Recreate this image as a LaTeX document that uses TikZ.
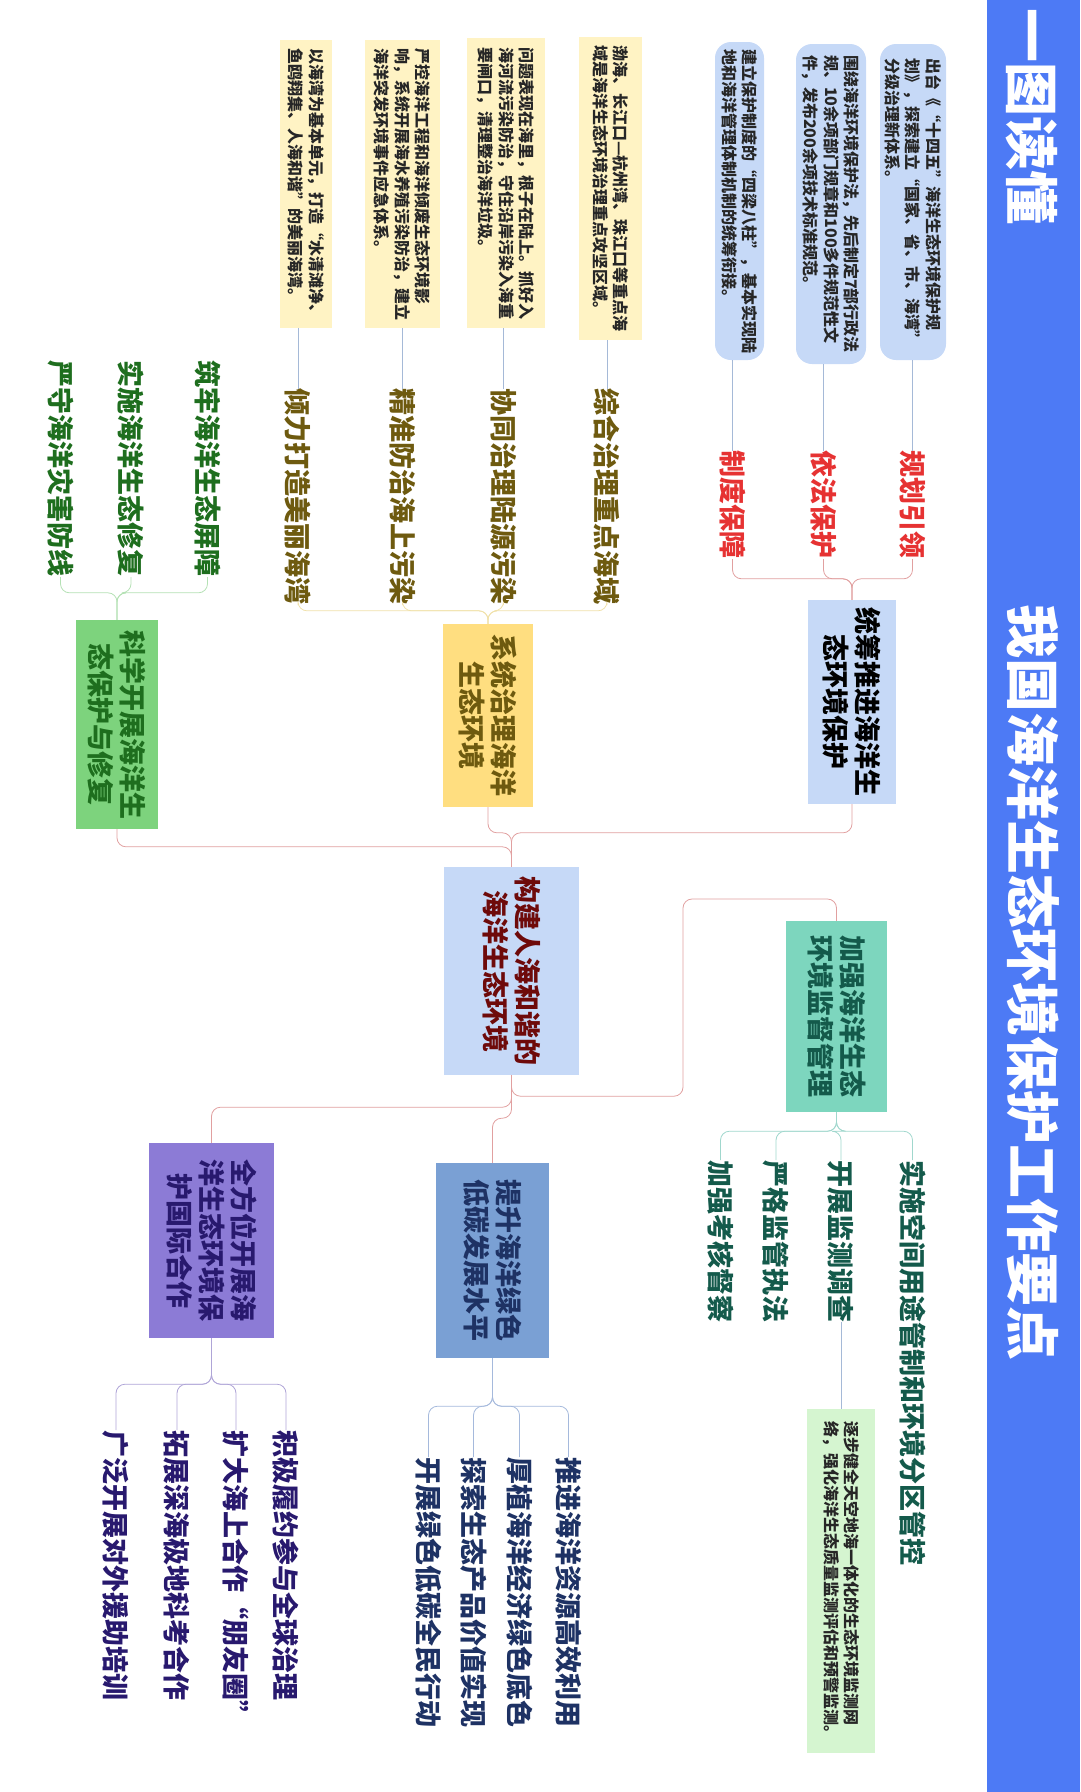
\documentclass[tikz,border=0pt]{standalone}
\usepackage{fontspec}
\setmainfont{Noto Sans CJK SC}
\usetikzlibrary{calc}

\definecolor{band}{RGB}{77,122,245}
\definecolor{paleblue}{RGB}{198,217,247}
\definecolor{gold}{RGB}{255,222,128}
\definecolor{cream}{RGB}{255,243,196}
\definecolor{grass}{RGB}{125,211,125}
\definecolor{mint}{RGB}{125,214,190}
\definecolor{palemint}{RGB}{213,245,208}
\definecolor{steel}{RGB}{122,160,212}
\definecolor{lilac}{RGB}{140,123,214}
\definecolor{txred}{RGB}{230,50,50}
\definecolor{txroot}{RGB}{110,10,10}
\definecolor{txolive}{RGB}{110,90,15}
\definecolor{txgreen}{RGB}{30,110,30}
\definecolor{txteal}{RGB}{20,90,75}
\definecolor{txnavy}{RGB}{30,50,100}
\definecolor{txindigo}{RGB}{40,25,110}
\definecolor{lnmain}{RGB}{225,160,160}
\definecolor{lnolive}{RGB}{240,225,170}
\definecolor{lngreen}{RGB}{180,225,180}
\definecolor{lnteal}{RGB}{160,215,205}
\definecolor{lnnavy}{RGB}{165,185,220}
\definecolor{lnindigo}{RGB}{175,165,215}
\definecolor{lnmemo}{RGB}{165,185,215}

\begin{document}
\begin{tikzpicture}[x=1pt,y=-1pt,
  every node/.style={rotate=-90,inner sep=0pt},
  link/.style={draw=#1,line width=0.8pt,rounded corners=9pt},
  topic/.style={align=center,font=\bfseries\fontsize{27}{32}\selectfont},
  leaf/.style={text=#1,font=\bfseries\fontsize{27}{27}\selectfont},
  memo/.style={fill=#1,align=left,text=black!85,font=\bfseries\fontsize{16}{20.5}\selectfont}]
\useasboundingbox (0,0) rectangle (1080,1792);

% title band
\fill[band] (987,0) rectangle (1080,1792);
\node[text=white,font=\bfseries\fontsize{54}{54}\selectfont] (ytdd) at (1032,116.5) {一图读懂};
\node[text=white,font=\bfseries\fontsize{54}{54}\selectfont] (ttl) at (1033,982.5) {我国海洋生态环境保护工作要点};

% main topics
\node[topic,fill=paleblue,text=txroot,minimum width=208pt,minimum height=135pt] (root) at (511.5,971) {构建人海和谐的\\海洋生态环境};
\node[topic,fill=paleblue,text=black,minimum width=204pt,minimum height=88pt] (tc) at (852,702) {统筹推进海洋生\\态环境保护};
\node[topic,fill=gold,text=txolive,minimum width=183pt,minimum height=90pt] (xt) at (488,715.5) {系统治理海洋\\生态环境};
\node[topic,fill=grass,text=txgreen,minimum width=209pt,minimum height=82pt] (kx) at (117,724.5) {科学开展海洋生\\态保护与修复};
\node[topic,fill=mint,text=txteal,minimum width=191pt,minimum height=101pt] (jq) at (836.5,1016.5) {加强海洋生态\\环境监督管理};
\node[topic,fill=steel,text=txnavy,minimum width=195pt,minimum height=113pt] (ts) at (492.5,1260.5) {提升海洋绿色\\低碳发展水平};
\node[topic,fill=lilac,text=txindigo,minimum width=195pt,minimum height=125pt] (qf) at (211.5,1240.5) {全方位开展海\\洋生态环境保\\护国际合作};

% sub topics
\node[leaf=txred,anchor=east] (gh) at (912.5,559) {规划引领};
\node[leaf=txred,anchor=east] (yf) at (823.5,559) {依法保护};
\node[leaf=txred,anchor=east] (zd) at (732.5,559) {制度保障};
\node[leaf=txolive,anchor=east] (zh) at (607,605) {综合治理重点海域};
\node[leaf=txolive,anchor=east] (xtl) at (503.5,605) {协同治理陆源污染};
\node[leaf=txolive,anchor=east] (jz) at (402.5,605) {精准防治海上污染};
\node[leaf=txolive,anchor=east] (ql) at (298,605) {倾力打造美丽海湾};
\node[leaf=txgreen,anchor=east] (zl) at (207.5,577) {筑牢海洋生态屏障};
\node[leaf=txgreen,anchor=east] (ss) at (131,577) {实施海洋生态修复};
\node[leaf=txgreen,anchor=east] (ys) at (60.5,577) {严守海洋灾害防线};
\node[leaf=txteal,anchor=west] (kj) at (912.5,1160) {实施空间用途管制和环境分区管控};
\node[leaf=txteal,anchor=west] (kz) at (841,1160) {开展监测调查};
\node[leaf=txteal,anchor=west] (yg) at (776,1160) {严格监管执法};
\node[leaf=txteal,anchor=west] (jk) at (720.5,1160) {加强考核督察};
\node[leaf=txnavy,anchor=west] (tj) at (568.5,1457) {推进海洋资源高效利用};
\node[leaf=txnavy,anchor=west] (hz) at (519.5,1457) {厚植海洋经济绿色底色};
\node[leaf=txnavy,anchor=west] (ta) at (473.5,1457) {探索生态产品价值实现};
\node[leaf=txnavy,anchor=west] (kl) at (428.5,1457) {开展绿色低碳全民行动};
\node[leaf=txindigo,anchor=west] (jj) at (286,1430) {积极履约参与全球治理};
\node[leaf=txindigo,anchor=west] (kd) at (236,1430) {扩大海上合作“朋友圈”};
\node[leaf=txindigo,anchor=west] (tz) at (177,1430) {拓展深海极地科考合作};
\node[leaf=txindigo,anchor=west] (gf) at (116,1430) {广泛开展对外援助培训};

% notes
\node[memo=paleblue,rounded corners=16pt,minimum width=316pt,minimum height=66pt] (n1) at (913,202) {出台《“十四五”海洋生态环境保护规\\划》，探索建立“国家、省、市、海湾”\\分级治理新体系。};
\node[memo=paleblue,rounded corners=16pt,minimum width=320pt,minimum height=70pt] (n2) at (831,204) {围绕海洋环境保护法，先后制定7部行政法\\规、10余项部门规章和100多件规范性文\\件，发布200余项技术标准规范。};
\node[memo=paleblue,rounded corners=16pt,minimum width=318pt,minimum height=49pt] (n3) at (739.5,201) {建立保护制度的“四梁八柱”，基本实现陆\\地和海洋管理体制机制的统筹衔接。};
\node[memo=cream,minimum width=303pt,minimum height=63pt] (n4) at (610.5,188.5) {渤海、长江口—杭州湾、珠江口等重点海\\域是海洋生态环境治理重点攻坚区域。};
\node[memo=cream,minimum width=290pt,minimum height=78pt] (n5) at (506,183) {问题表现在海里，根子在陆上。抓好入\\海河流污染防治，守住沿岸污染入海重\\要闸口，清理整治海洋垃圾。};
\node[memo=cream,minimum width=288pt,minimum height=75pt] (n6) at (402.5,184) {严控海洋工程和海洋倾废生态环境影\\响，系统开展海水养殖污染防治，建立\\海洋突发环境事件应急体系。};
\node[memo=cream,minimum width=288pt,minimum height=52pt] (n7) at (306,184) {以海湾为基本单元，打造“水清滩净、\\鱼鸥翔集、人海和谐”的美丽海湾。};
\node[memo=palemint,minimum width=344pt,minimum height=68pt] (n8) at (841,1581) {逐步健全天空地海一体化的生态环境监测网\\络，强化海洋生态质量监测评估和预警监测。};

% note lines
\foreach \a/\b in {gh/n1,yf/n2,zd/n3,zh/n4,xtl/n5,jz/n6,ql/n7}
  \draw[lnmemo,line width=0.8pt] (\a.west) -- (\a.west |- \b.east);
\draw[lnmemo,line width=0.8pt] (kz.east) -- (kz.east |- n8.west);

% root to main topics
\coordinate (rtA) at ($(root.west)+(0,-34)$);
\coordinate (rtB) at ($(root.west)+(0,-20)$);
\coordinate (rbA) at ($(root.east)+(0,21)$);
\coordinate (rbP) at (683,899);
\draw[link=lnmain] (tc.east) |- (rtA) -- (root.west);
\draw[link=lnmain] (xt.east) |- (rtA) -- (root.west);
\draw[link=lnmain] (kx.east) |- (rtB) -- (root.west);
\draw[link=lnmain] (root.east) -- (rbA) -| (rbP) -| (jq.west);
\draw[link=lnmain] (root.east) -- ($(root.east)+(0,43)$) -| (ts.west);
\draw[link=lnmain] (root.east) -- ($(root.east)+(0,32)$) -| (qf.west);

% main topics to sub topics
\coordinate (tcj) at ($(tc.west)+(0,-21)$);
\coordinate (xtj) at ($(xt.west)+(0,-13)$);
\coordinate (kxj) at ($(kx.west)+(0,-27)$);
\coordinate (jqj) at ($(jq.east)+(0,19)$);
\coordinate (tsj) at ($(ts.east)+(0,48)$);
\coordinate (qfj) at ($(qf.east)+(0,46)$);
\foreach \c in {gh,yf,zd} \draw[link=lnmain] (tc.west) -- (tcj) -| (\c.east);
\foreach \c in {zh,xtl,jz,ql} \draw[link=lnolive] (xt.west) -- (xtj) -| (\c.east);
\foreach \c in {zl,ss,ys} \draw[link=lngreen] (kx.west) -- (kxj) -| (\c.east);
\foreach \c in {kj,kz,yg,jk} \draw[link=lnteal] (jq.east) -- (jqj) -| (\c.west);
\foreach \c in {tj,hz,ta,kl} \draw[link=lnnavy] (ts.east) -- (tsj) -| (\c.west);
\foreach \c in {jj,kd,tz,gf} \draw[link=lnindigo] (qf.east) -- (qfj) -| (\c.west);

\end{tikzpicture}
\end{document}
